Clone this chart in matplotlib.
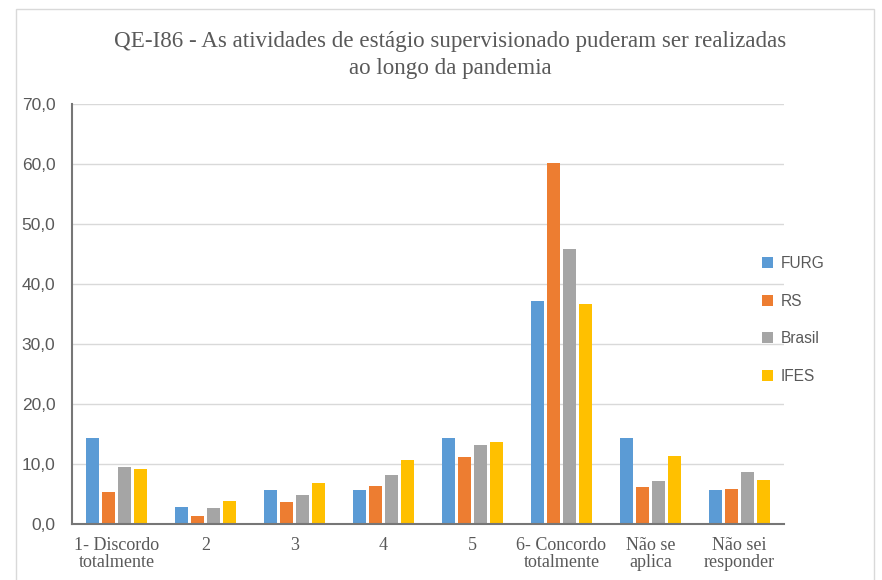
import matplotlib.pyplot as plt
import numpy as np
from matplotlib.patches import Rectangle
from matplotlib.ticker import FuncFormatter

categories = ['1- Discordo\ntotalmente', '2', '3', '4', '5',
              '6- Concordo\ntotalmente', 'Não se\naplica', 'Não sei\nresponder']
furg = [14.3, 2.9, 5.7, 5.7, 14.3, 37.1, 14.3, 5.7]
rs = [5.3, 1.3, 3.6, 6.4, 11.2, 60.2, 6.2, 5.9]
brasil = [9.5, 2.6, 4.8, 8.1, 13.2, 45.8, 7.2, 8.7]
ifes = [9.2, 3.9, 6.9, 10.7, 13.7, 36.7, 11.4, 7.3]

series = {'FURG': furg, 'RS': rs, 'Brasil': brasil, 'IFES': ifes}
bar_colors = ['#5B9BD5', '#ED7D31', '#A5A5A5', '#FFC000']

fig = plt.figure(figsize=(8.82, 5.80), dpi=100)
ax = fig.add_axes([72 / 882, 1 - 524 / 580, 712 / 882, 420 / 580])

# light frame around the whole chart
fig.patches.append(Rectangle((16 / 882, -2 / 580), 858 / 882, 573 / 580,
                             transform=fig.transFigure, fill=False,
                             edgecolor='#D9D9D9', linewidth=1))

x = np.arange(len(categories))
step = 0.18
width = 0.138
for k, (name, vals) in enumerate(series.items()):
    ax.bar(x + (k - 1.5) * step, vals, width, color=bar_colors[k], label=name)

ax.set_xlim(-0.5, len(categories) - 0.5)
ax.set_ylim(0, 70)
ax.set_yticks(range(0, 71, 10))
ax.yaxis.set_major_formatter(FuncFormatter(lambda v, p: f'{v:.1f}'.replace('.', ',')))
ax.set_xticks(x)
ax.set_xticklabels(categories, family='Liberation Serif', fontsize=13, color='#595959',
                   linespacing=1.05)
for lab in ax.get_yticklabels():
    lab.set_family('Liberation Sans')
    lab.set_fontsize(12.5)
    lab.set_color('#595959')
ax.tick_params(axis='x', length=0, pad=9)
ax.tick_params(axis='y', length=0, pad=12)

ax.yaxis.grid(True, color='#D9D9D9', linewidth=1)
ax.set_axisbelow(True)
for s in ['top', 'right']:
    ax.spines[s].set_visible(False)
ax.spines['left'].set_color('#767676')
ax.spines['bottom'].set_color('#767676')
ax.spines['left'].set_linewidth(1.5)
ax.spines['bottom'].set_linewidth(1.5)

fig.text(450 / 882, 1 - 55 / 580,
         'QE-I86 - As atividades de estágio supervisionado puderam ser realizadas\nao longo da pandemia',
         ha='center', va='center', family='Liberation Serif', fontsize=16.6,
         color='#595959', linespacing=1.4)

leg = ax.legend(loc='center left', bbox_to_anchor=(748 / 882, 1 - 320 / 580),
                bbox_transform=fig.transFigure, frameon=False,
                prop={'family': 'Liberation Sans', 'size': 11.2},
                handlelength=0.7, handleheight=0.7, handletextpad=0.5,
                labelspacing=1.45, labelcolor='#595959')

plt.savefig('out.png', dpi=100)
plt.close()
